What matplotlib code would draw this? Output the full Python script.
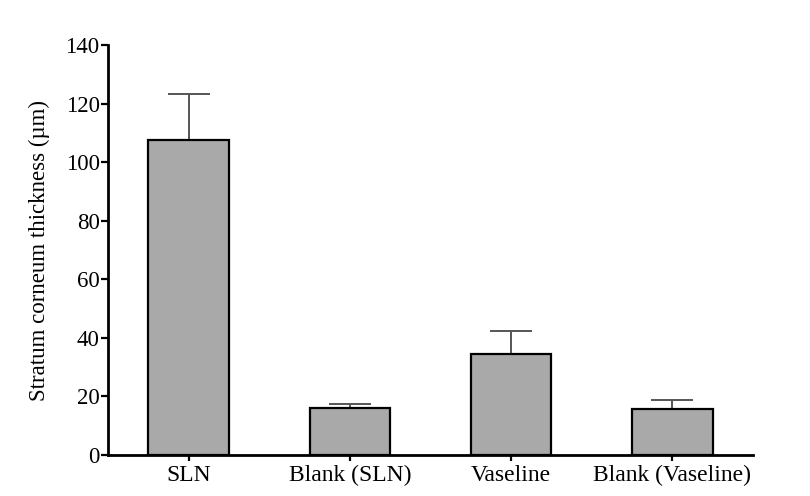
import matplotlib
matplotlib.use("Agg")
import matplotlib.pyplot as plt

categories = ["SLN", "Blank (SLN)", "Vaseline", "Blank (Vaseline)"]
values = [107.6, 15.9, 34.5, 15.7]
errors = [15.8, 1.4, 7.7, 3.1]
yticks = [0, 20, 40, 60, 80, 100, 120, 140]

plt.rcParams['font.family'] = ['Liberation Serif', 'DejaVu Serif']

fig = plt.figure(figsize=(8.1, 4.96), dpi=100)
ax = fig.add_axes([0.1333, 0.0827, 0.7963, 0.8263])
x = list(range(len(categories)))
ax.bar(x, values, width=0.5, color='#a9a9a9', edgecolor='black', linewidth=1.6, zorder=2)
ax.errorbar(x, values, yerr=[[0]*len(errors), errors], fmt='none', ecolor='#555555',
            elinewidth=1.4, capsize=14.8, capthick=1.4, zorder=1)
ax.set_xlim(-0.5, 3.5)
ax.set_ylim(0, 140)
ax.set_yticks(yticks)
ax.set_xticks(x)
ax.set_xticklabels(categories, fontsize=17)
ax.tick_params(axis='y', labelsize=16.5, width=1.6, length=5, direction='out', pad=1)
ax.tick_params(axis='x', width=1.6, length=4, direction='out', pad=3)
for s in ['top', 'right']:
    ax.spines[s].set_visible(False)
for s in ['left', 'bottom']:
    ax.spines[s].set_linewidth(2)
ax.set_ylabel('Stratum corneum thickness (\u00b5m)', fontsize=16.5)
ax.yaxis.set_label_coords(-0.09, 0.5)
fig.savefig('out.png', dpi=100)
